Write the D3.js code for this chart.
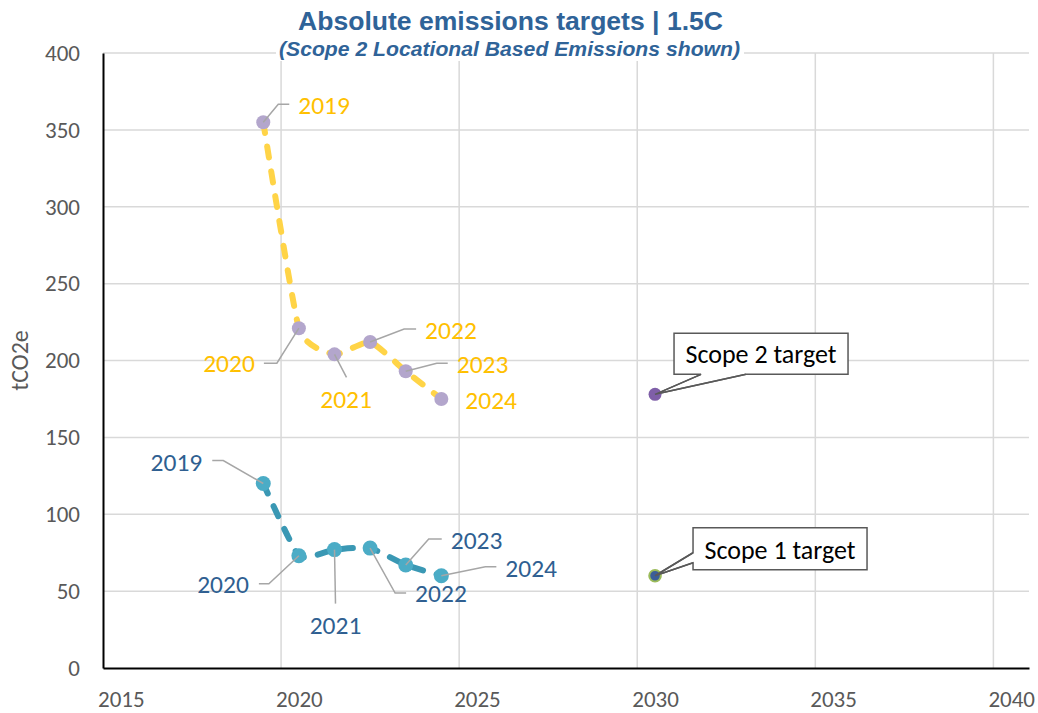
<!DOCTYPE html>
<html>
<head>
<meta charset="utf-8">
<script src="https://cdn.jsdelivr.net/npm/d3@7"></script>
<style>
  html, body { margin: 0; padding: 0; background: #fff; }
  svg { display: block; }
</style>
</head>
<body>
<svg id="chart" width="1038" height="713"></svg>
<script>
// ---------------- DATA ----------------
const labelYears   = ["2019", "2020", "2021", "2022", "2023", "2024"];
const years        = [2019, 2020, 2021, 2022, 2023, 2024];
const scope2Values = [355, 221, 204, 212, 193, 175];
const scope1Values = [120, 73, 77, 78, 67, 60];
const targetYear   = 2030;
const scope2Target = 178;
const scope1Target = 60;
const xTicks = [2015, 2020, 2025, 2030, 2035, 2040];
const yTicks = [0, 50, 100, 150, 200, 250, 300, 350, 400];
const titleText = "Absolute emissions targets | 1.5C";
const subtitleText = "(Scope 2 Locational Based Emissions shown)";
const yAxisTitle = "tCO2e";
const scope2TargetLabel = "Scope 2 target";
const scope1TargetLabel = "Scope 1 target";

// ---------------- LAYOUT / STYLE ----------------
const svg = d3.select("#chart");
const pLeft = 103, pRight = 1029, pTop = 53, pBottom = 668;
const x = d3.scaleLinear().domain([2014.5, 2040.5]).range([pLeft, pRight]);
const y = d3.scaleLinear().domain([0, 400]).range([pBottom, pTop]);
const calibri = "Carlito, Calibri, Lato, 'Open Sans', sans-serif";
const arial = "'Liberation Sans', Arial, sans-serif";
const labelSize = 25.5;
const gridShift = 0.5; // gridlines sit half a year before each labelled year

// label layout offsets (pixels relative to point): text dx, dy (center), anchor, leader polyline
const s2Layout = [
  {dx: 35, dy: -16, a: "start", lead: [[0,0],[15,-18],[26,-18]]},
  {dx: -44, dy: 35.5, a: "end", lead: [[0,0],[-22,35],[-35,35]]},
  {dx: 11.6, dy: 45, a: "middle", lead: [[0,0],[12,23]]},
  {dx: 55, dy: -11.5, a: "start", lead: [[0,0],[34,-13],[46,-13]]},
  {dx: 51, dy: -6, a: "start", lead: [[0,0],[31,-8],[42,-8]]},
  {dx: 24, dy: 1.5, a: "start", lead: null}
];
const s1Layout = [
  {dx: -61, dy: -21, a: "end", lead: [[0,0],[-40,-23],[-51,-23]]},
  {dx: -50, dy: 29.5, a: "end", lead: [[0,0],[-30,28],[-40,28]]},
  {dx: 1, dy: 76.5, a: "middle", lead: [[0,0],[1,54]]},
  {dx: 45, dy: 45.5, a: "start", lead: [[0,0],[25,45],[36,45]]},
  {dx: 45, dy: -24.5, a: "start", lead: [[0,0],[23,-26],[36,-26]]},
  {dx: 64, dy: -6.5, a: "start", lead: [[0,0],[44,-9],[55,-9]]}
];

// ---------------- GRID ----------------
const grid = svg.append("g");
grid.selectAll("line.h").data(yTicks.filter(d => d > 0)).join("line")
  .attr("x1", pLeft).attr("x2", pRight)
  .attr("y1", d => y(d)).attr("y2", d => y(d))
  .attr("stroke", "#d9d9d9").attr("stroke-width", 1.5);
grid.selectAll("line.v").data(xTicks.filter(d => d > 2015)).join("line")
  .attr("x1", d => x(d - gridShift)).attr("x2", d => x(d - gridShift))
  .attr("y1", pTop).attr("y2", pBottom)
  .attr("stroke", "#d9d9d9").attr("stroke-width", 1.5);

// ---------------- AXES ----------------
const xAxis = svg.append("g").attr("transform", `translate(0,${pBottom})`)
  .call(d3.axisBottom(x).tickValues(xTicks).tickFormat(d3.format("d")).tickSize(0).tickSizeOuter(0));
xAxis.select(".domain").attr("stroke", "#000").attr("stroke-width", 2);
xAxis.selectAll("text").attr("font-family", calibri).attr("font-size", 23)
  .attr("fill", "#595959").attr("dy", null).attr("y", 38.5);

const yAxis = svg.append("g").attr("transform", `translate(${pLeft},0)`)
  .call(d3.axisLeft(y).tickValues(yTicks).tickSize(0).tickSizeOuter(0));
yAxis.select(".domain").attr("stroke", "#000").attr("stroke-width", 2);
yAxis.selectAll("text").attr("font-family", calibri).attr("font-size", 23)
  .attr("fill", "#595959").attr("dy", null).attr("x", -23).attr("y", 7.3);

svg.append("text")
  .attr("transform", `translate(28,${(pTop + pBottom) / 2}) rotate(-90)`)
  .attr("text-anchor", "middle")
  .attr("font-family", calibri).attr("font-size", 24).attr("fill", "#595959")
  .text(yAxisTitle);

// ---------------- TITLE ----------------
svg.append("rect").attr("x", 276).attr("y", 0).attr("width", 468).attr("height", 61).attr("fill", "#fff");
svg.append("text").attr("x", 510.5).attr("y", 30).attr("text-anchor", "middle")
  .attr("font-family", arial).attr("font-weight", "bold").attr("font-size", 25)
  .attr("textLength", 425).attr("lengthAdjust", "spacingAndGlyphs")
  .attr("fill", "#2f6398").text(titleText);
svg.append("text").attr("x", 509.5).attr("y", 55.5).attr("text-anchor", "middle")
  .attr("font-family", arial).attr("font-weight", "bold").attr("font-style", "italic").attr("font-size", 20)
  .attr("textLength", 461).attr("lengthAdjust", "spacingAndGlyphs")
  .attr("fill", "#2f6398").text(subtitleText);

// ---------------- SERIES ----------------
const line = d3.line().x(d => x(d[0])).y(d => y(d[1])).curve(d3.curveCardinal.tension(0.5));
const s2 = years.map((yr, i) => [yr, scope2Values[i]]);
const s1 = years.map((yr, i) => [yr, scope1Values[i]]);

svg.append("path").datum(s2).attr("d", line).attr("fill", "none")
  .attr("stroke", "#ffd447").attr("stroke-width", 6)
  .attr("stroke-dasharray", "11,14").attr("stroke-linecap", "round");
svg.append("path").datum(s1).attr("d", line).attr("fill", "none")
  .attr("stroke", "#3a98b4").attr("stroke-width", 6)
  .attr("stroke-dasharray", "11,14").attr("stroke-linecap", "round");

svg.append("g").selectAll("circle").data(s2).join("circle")
  .attr("cx", d => x(d[0])).attr("cy", d => y(d[1])).attr("r", 7).attr("fill", "#b3a6cc");
svg.append("g").selectAll("circle").data(s1).join("circle")
  .attr("cx", d => x(d[0])).attr("cy", d => y(d[1])).attr("r", 7.5).attr("fill", "#4bacc6");

// leader lines + labels
function drawLabels(data, layout, color) {
  const g = svg.append("g");
  data.forEach((d, i) => {
    const px = x(d[0]), py = y(d[1]), L = layout[i];
    if (L.lead) {
      g.append("polyline")
        .attr("points", L.lead.map(p => `${px + p[0]},${py + p[1]}`).join(" "))
        .attr("fill", "none").attr("stroke", "#a6a6a6").attr("stroke-width", 1.5);
    }
    g.append("text").attr("x", px + L.dx).attr("y", py + L.dy + 8.2)
      .attr("text-anchor", L.a).attr("font-family", calibri).attr("font-size", labelSize)
      .attr("fill", color).text(labelYears[i]);
  });
}
drawLabels(s2, s2Layout, "#ffc000");
drawLabels(s1, s1Layout, "#2f5f91");

// ---------------- TARGETS ----------------
const t2x = x(targetYear), t2y = y(scope2Target);
const t1x = x(targetYear), t1y = y(scope1Target);

svg.append("path")
  .attr("d", `M${t2x + 19},${t2y - 61} H${t2x + 193} V${t2y - 20} H${t2x + 91} L${t2x},${t2y} L${t2x + 46},${t2y - 20} H${t2x + 19} Z`)
  .attr("fill", "#fff").attr("stroke", "#595959").attr("stroke-width", 1.5);
svg.append("text").attr("x", t2x + 106).attr("y", t2y - 31).attr("text-anchor", "middle")
  .attr("font-family", calibri).attr("font-size", 26).attr("fill", "#000").text(scope2TargetLabel);

svg.append("path")
  .attr("d", `M${t1x + 38},${t1y - 48} H${t1x + 212} V${t1y - 6} H${t1x + 38} V${t1y - 13} L${t1x},${t1y} L${t1x + 38},${t1y - 23} Z`)
  .attr("fill", "#fff").attr("stroke", "#595959").attr("stroke-width", 1.5);
svg.append("text").attr("x", t1x + 125).attr("y", t1y - 17).attr("text-anchor", "middle")
  .attr("font-family", calibri).attr("font-size", 26).attr("fill", "#000").text(scope1TargetLabel);

svg.append("circle").attr("cx", t2x).attr("cy", t2y).attr("r", 6.5).attr("fill", "#7f5fa8");
svg.append("circle").attr("cx", t1x).attr("cy", t1y).attr("r", 5.8)
  .attr("fill", "#3a5e99").attr("stroke", "#9bbb59").attr("stroke-width", 2);
svg.append("polyline").attr("points", `${t2x + 46},${t2y - 20} ${t2x},${t2y} ${t2x + 91},${t2y - 20}`)
  .attr("fill", "none").attr("stroke", "#595959").attr("stroke-width", 1.5);
svg.append("polyline").attr("points", `${t1x + 38},${t1y - 23} ${t1x},${t1y} ${t1x + 38},${t1y - 13}`)
  .attr("fill", "none").attr("stroke", "#595959").attr("stroke-width", 1.5);
</script>
</body>
</html>
